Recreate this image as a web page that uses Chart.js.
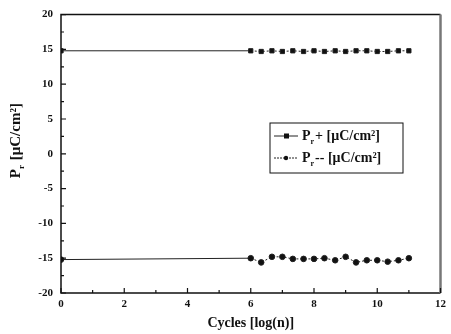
<!DOCTYPE html>
<html>
<head>
<meta charset="utf-8">
<script src="https://cdn.jsdelivr.net/npm/chart.js@4/dist/chart.umd.min.js"></script>
<style>
  html, body { margin: 0; padding: 0; background: #fff; }
  #wrap { width: 451px; height: 334px; }
</style>
</head>
<body>
<div id="wrap"><canvas id="prChart" width="451" height="334"></canvas></div>
<script>
// cycles, log(n)
const cycles = [0, 6, 6.33, 6.67, 7, 7.33, 7.67, 8, 8.33, 8.67, 9, 9.33, 9.67, 10, 10.33, 10.67, 11];
const prPlus = [14.8, 14.8, 14.7, 14.8, 14.7, 14.8, 14.7, 14.8, 14.7, 14.8, 14.7, 14.8, 14.8, 14.7, 14.7, 14.8, 14.8];
const prMinus = [-15.2, -15.0, -15.6, -14.8, -14.8, -15.1, -15.1, -15.1, -15.0, -15.3, -14.8, -15.6, -15.3, -15.3, -15.5, -15.3, -15.0];
const xTicks = [0, 2, 4, 6, 8, 10, 12];
const yTicks = [-20, -15, -10, -5, 0, 5, 10, 15, 20];
const legendLabels = ['+ [\u03bcC/cm\u00b2]', '-- [\u03bcC/cm\u00b2]'];

const serif = '"Liberation Serif", "DejaVu Serif", serif';

function toPoints(ys) {
    return cycles.map((x, i) => ({ x: x, y: ys[i] }));
}

// draw P with subscript r, then the rest
function drawPr(ctx, x, y, rest, size) {
    ctx.font = 'bold ' + size + 'px ' + serif;
    ctx.textBaseline = 'alphabetic';
    ctx.textAlign = 'left';
    ctx.fillText('P', x, y);
    let w = ctx.measureText('P').width;
    ctx.font = 'bold ' + Math.round(size * 0.6) + 'px ' + serif;
    ctx.fillText('r', x + w, y + size * 0.28);
    w += ctx.measureText('r').width + 1;
    ctx.font = 'bold ' + size + 'px ' + serif;
    ctx.fillText(rest, x + w, y);
    return w + ctx.measureText(rest).width;
}

const framePlugin = {
    id: 'frame',
    afterDraw(chart) {
        const ctx = chart.ctx;
        const a = chart.chartArea;
        const xs = chart.scales.x, ys = chart.scales.y;
        ctx.save();
        ctx.strokeStyle = '#111';
        ctx.lineWidth = 1.5;
        ctx.beginPath();
        ctx.moveTo(a.right, a.top);
        ctx.lineTo(a.left, a.top);
        ctx.lineTo(a.left, a.bottom);
        ctx.lineTo(a.right, a.bottom);
        ctx.stroke();
        ctx.strokeStyle = '#777';
        ctx.lineWidth = 2.5;
        ctx.beginPath();
        ctx.moveTo(a.right, a.top);
        ctx.lineTo(a.right, a.bottom);
        ctx.stroke();

        // inward ticks
        ctx.strokeStyle = '#111';
        ctx.lineWidth = 1.2;
        ctx.beginPath();
        for (let v = 0; v <= 12; v += 1) {
            const px = xs.getPixelForValue(v);
            const len = v % 2 === 0 ? 5 : 3;
            ctx.moveTo(px, a.bottom);
            ctx.lineTo(px, a.bottom - len);
        }
        for (let v = -20; v <= 20; v += 2.5) {
            const py = ys.getPixelForValue(v);
            const len = v % 5 === 0 ? 5 : 3;
            ctx.moveTo(a.left, py);
            ctx.lineTo(a.left + len, py);
        }
        ctx.stroke();

        // y axis title
        ctx.fillStyle = '#111';
        ctx.translate(20, (a.top + a.bottom) / 2 - 14);
        ctx.rotate(-Math.PI / 2);
        ctx.font = 'bold 15px ' + serif;
        const tw = ctx.measureText('Pr [\u03bcC/cm\u00b2]').width;
        drawPr(ctx, -tw / 2, 0, ' [\u03bcC/cm\u00b2]', 15);
        ctx.restore();

        // legend box
        ctx.save();
        const bx = 270, by = 123, bw = 133, bh = 50;
        ctx.strokeStyle = '#111';
        ctx.lineWidth = 1;
        ctx.strokeRect(bx, by, bw, bh);
        ctx.fillStyle = '#111';
        const rows = [by + 17, by + 39];
        chart.data.datasets.forEach((ds, i) => {
            const ry = rows[i];
            ctx.beginPath();
            ctx.strokeStyle = '#222';
            ctx.lineWidth = 1;
            if (i === 1) ctx.setLineDash([2, 1]);
            ctx.moveTo(bx + 4, ry - 4);
            ctx.lineTo(bx + 28, ry - 4);
            ctx.stroke();
            ctx.setLineDash([]);
            if (i === 0) {
                ctx.fillRect(bx + 14, ry - 6.5, 5, 5);
            } else {
                ctx.beginPath();
                ctx.arc(bx + 16, ry - 4, 2.2, 0, Math.PI * 2);
                ctx.fill();
            }
            drawPr(ctx, bx + 32, ry, legendLabels[i], 14);
        });
        ctx.restore();
    }
};

new Chart(document.getElementById('prChart').getContext('2d'), {
    type: 'scatter',
    data: {
        datasets: [{
            label: 'Pr+ [\u03bcC/cm\u00b2]',
            data: toPoints(prPlus),
            showLine: true,
            borderColor: '#222',
            backgroundColor: '#111',
            borderWidth: 1,
            pointStyle: 'rect',
            pointRadius: 3,
            segment: {
                borderDash: ctx => ctx.p0DataIndex === 0 ? [] : [2, 2]
            }
        }, {
            label: 'Pr-- [\u03bcC/cm\u00b2]',
            data: toPoints(prMinus),
            showLine: true,
            borderColor: '#222',
            backgroundColor: '#111',
            borderWidth: 1,
            pointStyle: 'circle',
            pointRadius: 2.8,
            segment: {
                borderDash: ctx => ctx.p0DataIndex === 0 ? [] : [2, 2]
            }
        }]
    },
    options: {
        responsive: false,
        animation: false,
        layout: { padding: { left: 0, right: 8, top: 12, bottom: 0 } },
        plugins: {
            legend: { display: false },
            tooltip: { enabled: false }
        },
        scales: {
            x: {
                type: 'linear',
                min: 0,
                max: 12,
                afterBuildTicks: s => { s.ticks = xTicks.map(v => ({ value: v })); },
                afterFit: s => { s.height = 41; },
                grid: { display: false, drawTicks: false },
                border: { display: false },
                ticks: {
                    color: '#111',
                    padding: 5,
                    font: { family: serif, size: 11, weight: 'bold' }
                },
                title: {
                    display: true,
                    text: 'Cycles [log(n)]',
                    color: '#111',
                    padding: { top: 0, bottom: 2 },
                    font: { family: serif, size: 14, weight: 'bold' }
                }
            },
            y: {
                min: -20,
                max: 20,
                afterBuildTicks: s => { s.ticks = yTicks.map(v => ({ value: v })); },
                afterFit: s => { s.width = 61; },
                grid: { display: false, drawTicks: false },
                border: { display: false },
                ticks: {
                    color: '#111',
                    padding: 8,
                    font: { family: serif, size: 11, weight: 'bold' }
                }
            }
        }
    },
    plugins: [framePlugin]
});
</script>
</body>
</html>
